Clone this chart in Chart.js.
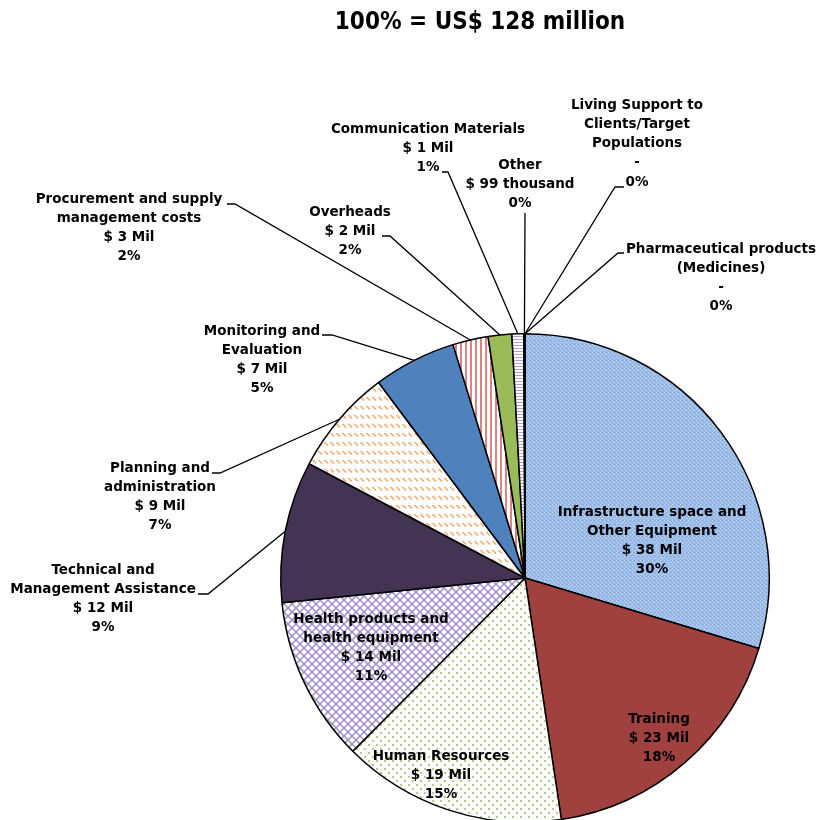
<!DOCTYPE html>
<html>
<head>
<meta charset="utf-8">
<script src="https://cdn.jsdelivr.net/npm/chart.js@4.4.1/dist/chart.umd.min.js"></script>
<style>
  html, body { margin: 0; padding: 0; background: #fff; overflow: hidden; }
  #wrap { width: 819px; height: 826px; }
</style>
</head>
<body>
<div id="wrap"><canvas id="budget" width="819" height="826"></canvas></div>
<script>
// budget categories (label lines) and amounts in US$ million
const categories = [
  ["Infrastructure space and", "Other Equipment"],
  ["Training"],
  ["Human Resources"],
  ["Health products and", "health equipment"],
  ["Technical and", "Management Assistance"],
  ["Planning and", "administration"],
  ["Monitoring and", "Evaluation"],
  ["Procurement and supply", "management costs"],
  ["Overheads"],
  ["Communication Materials"],
  ["Other"],
  ["Living Support to", "Clients/Target", "Populations"],
  ["Pharmaceutical products", "(Medicines)"]
];
const amounts = [38, 23, 19, 14, 12, 9, 7, 3, 2, 1, 0.099, 0, 0];

const total = amounts.reduce((a, b) => a + b, 0);

function amountText(v) {
  if (v === 0) return "-";
  if (v < 1) return "$ " + Math.round(v * 1000) + " thousand";
  return "$ " + Math.round(v) + " Mil";
}

function pctText(v) {
  return Math.round(v / total * 100) + "%";
}

// small tiles used as fill patterns
function makePattern(w, h, draw) {
  const c = document.createElement("canvas");
  c.width = w;
  c.height = h;
  const g = c.getContext("2d");
  draw(g, w, h);
  return g.createPattern(c, "repeat");
}

const fills = [
  makePattern(4, 4, (g) => {
    g.fillStyle = "#9bbbe8"; g.fillRect(0, 0, 4, 4);
    g.fillStyle = "#c4d8f4"; g.fillRect(0, 0, 1, 1); g.fillRect(2, 2, 1, 1);
    g.fillStyle = "#7ba0d9"; g.fillRect(2, 0, 1, 1);
  }),
  "#a0413f",
  makePattern(8, 8, (g) => {
    g.fillStyle = "#fff"; g.fillRect(0, 0, 8, 8);
    g.fillStyle = "#b2ce88"; g.fillRect(0, 0, 2, 2); g.fillRect(4, 4, 2, 2);
  }),
  makePattern(8, 8, (g) => {
    g.fillStyle = "#fff"; g.fillRect(0, 0, 8, 8);
    g.strokeStyle = "#a08dc6"; g.lineWidth = 1.5;
    g.beginPath();
    g.moveTo(0, 0); g.lineTo(8, 8);
    g.moveTo(8, 0); g.lineTo(0, 8);
    g.stroke();
  }),
  "#433454",
  makePattern(6, 9, (g) => {
    g.fillStyle = "#fff"; g.fillRect(0, 0, 6, 9);
    g.strokeStyle = "#f8a464"; g.lineWidth = 1.5;
    g.beginPath();
    g.moveTo(0.5, 1); g.lineTo(4, 4.5);
    g.stroke();
  }),
  "#4f81bd",
  makePattern(5, 1, (g) => {
    g.fillStyle = "#fff"; g.fillRect(0, 0, 5, 1);
    g.fillStyle = "#dd8483"; g.fillRect(0, 0, 2, 1);
  }),
  "#9bbb59",
  makePattern(1, 3, (g) => {
    g.fillStyle = "#fff"; g.fillRect(0, 0, 1, 3);
    g.fillStyle = "#b3a2d0"; g.fillRect(0, 0, 1, 1);
  }),
  "#c6d9f1",
  "#ffffff",
  "#ffffff"
];

// where each label sits: text centre x, first line y,
// and for outside labels the leader knee and tail end
const labelLayout = [
  { x: 652, y: 512 },
  { x: 659, y: 719 },
  { x: 441, y: 756 },
  { x: 371, y: 619 },
  { x: 103, y: 570, knee: [208, 594], tail: [198, 594] },
  { x: 160, y: 468, knee: [220, 473], tail: [212, 473] },
  { x: 262, y: 331, knee: [332, 335], tail: [322, 335] },
  { x: 129, y: 199, knee: [235, 204], tail: [227, 204] },
  { x: 350, y: 212, knee: [390, 236], tail: [382, 236] },
  { x: 428, y: 129, knee: [448, 172], tail: [442, 172] },
  { x: 520, y: 165, knee: [525, 213], tail: [525, 213] },
  { x: 637, y: 105, knee: [615, 187], tail: [624, 187] },
  { x: 721, y: 249, knee: [618, 253], tail: [624, 253] }
];

const LABEL_FONT = "bold 13.5px 'DejaVu Sans', sans-serif";
const LINE_H = 19.3;

const sliceLabels = {
  id: "sliceLabels",
  afterDatasetsDraw(chart) {
    const ctx = chart.ctx;
    const arcs = chart.getDatasetMeta(0).data;
    ctx.save();

    // title
    ctx.fillStyle = "#000";
    ctx.font = "bold 24px 'DejaVu Sans Condensed', 'DejaVu Sans', sans-serif";
    ctx.textAlign = "center";
    ctx.textBaseline = "middle";
    ctx.fillText("100% = US$ " + Math.round(total) + " million", 480, 23);

    ctx.font = LABEL_FONT;
    arcs.forEach((arc, i) => {
      const lay = labelLayout[i];
      if (lay.knee) {
        const p = arc.getProps(["x", "y", "startAngle", "endAngle", "outerRadius"], true);
        const mid = (p.startAngle + p.endAngle) / 2;
        const ex = p.x + Math.cos(mid) * p.outerRadius;
        const ey = p.y + Math.sin(mid) * p.outerRadius;
        ctx.strokeStyle = "#000";
        ctx.lineWidth = 1.3;
        ctx.beginPath();
        ctx.moveTo(ex, ey);
        ctx.lineTo(lay.knee[0], lay.knee[1]);
        ctx.lineTo(lay.tail[0], lay.tail[1]);
        ctx.stroke();
      }
      const lines = categories[i].concat([amountText(amounts[i]), pctText(amounts[i])]);
      ctx.fillStyle = "#000";
      lines.forEach((t, k) => {
        ctx.fillText(t, lay.x, lay.y + k * LINE_H);
      });
    });
    ctx.restore();
  }
};

const ctx = document.getElementById("budget").getContext("2d");
new Chart(ctx, {
  type: "pie",
  data: {
    labels: categories.map((c) => c.join(" ")),
    datasets: [
      {
        data: amounts,
        backgroundColor: fills,
        borderColor: "#000",
        borderWidth: 1.5
      }
    ]
  },
  options: {
    responsive: false,
    animation: false,
    layout: {
      padding: { left: 280, right: 49, top: 333, bottom: 3 }
    },
    plugins: {
      legend: { display: false },
      tooltip: { enabled: false }
    }
  },
  plugins: [sliceLabels]
});
</script>
</body>
</html>
